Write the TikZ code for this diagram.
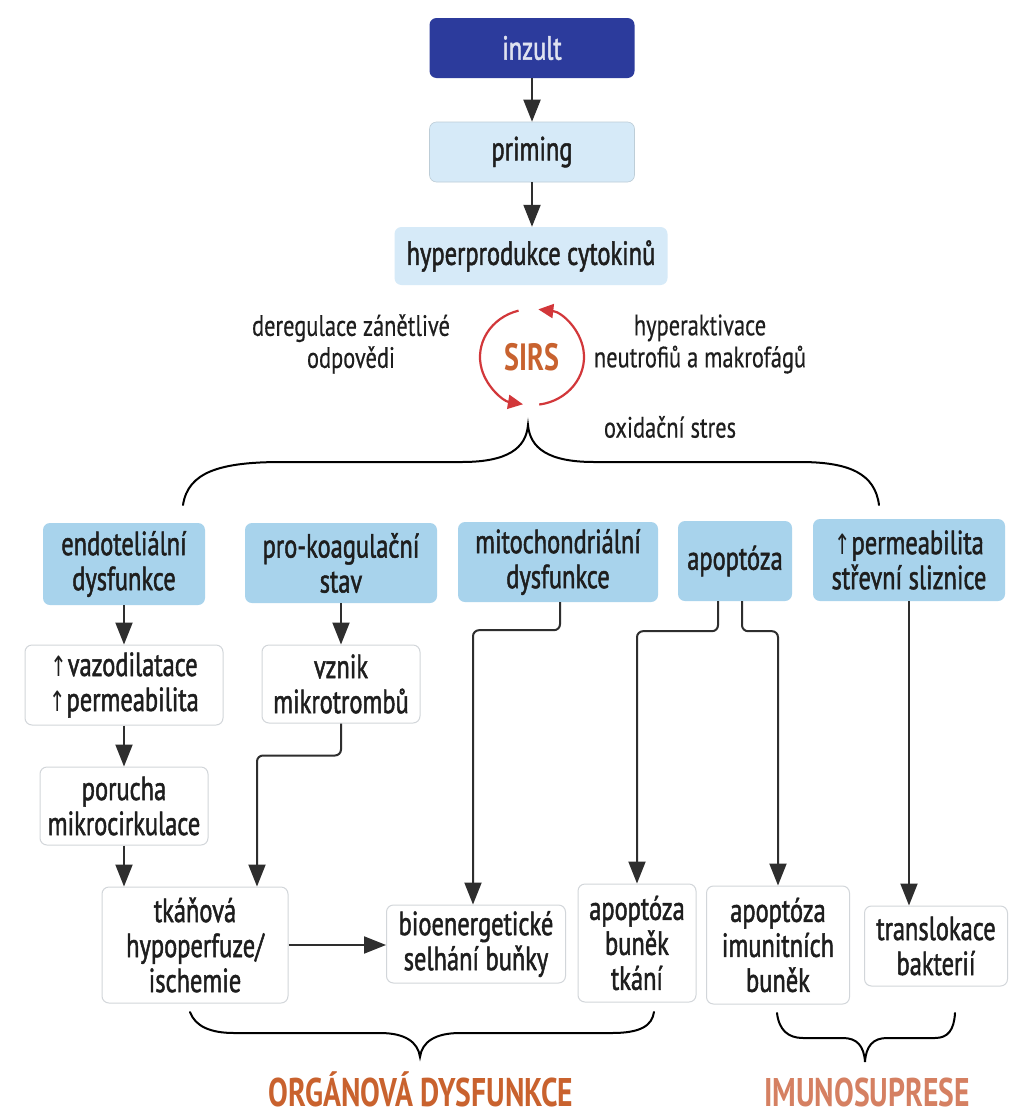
\documentclass[tikz,border=0pt]{standalone}
\usepackage{fontspec}
\setmainfont{PT Sans}[FakeStretch=0.74]
\newfontfamily\boxfont{PT Sans}[FakeStretch=0.73,FakeBold=1.4]
\newfontfamily\lblfont{PT Sans}[FakeStretch=0.76,FakeBold=0.4]
\newfontfamily\arrfont{DejaVu Sans}[FakeStretch=0.7]
\usetikzlibrary{arrows.meta,calc}
\definecolor{dkblue}{HTML}{2C3B9C}
\definecolor{ltblue}{HTML}{D6EAF8}
\definecolor{mdblue}{HTML}{A8D3EC}
\definecolor{wbord}{HTML}{D2D6DA}
\definecolor{conn}{HTML}{2E2E2E}
\definecolor{sirsred}{HTML}{D2373A}
\definecolor{sirstxt}{HTML}{C8622F}
\definecolor{orgtxt}{HTML}{C9622E}
\definecolor{imutxt}{HTML}{D58062}
\definecolor{txt}{HTML}{1E1E1E}
\newcommand{\uparr}{{\arrfont\fontsize{28}{28}\selectfont ↑}\kern1pt}
\tikzset{
  base/.style={rounded corners=7pt, align=center, inner sep=0pt, text=txt,
    font=\boxfont\fontsize{33.5}{35}\selectfont},
  darkbox/.style={base, fill=dkblue, text=white!85!dkblue},
  lightbox/.style={base, fill=ltblue, draw=ltblue!85!black!90, line width=0.6pt},
  hybox/.style={base, fill=ltblue},
  midbox/.style={base, fill=mdblue},
  whitebox/.style={base, fill=white, draw=wbord, line width=1pt},
  lbl/.style={align=center, inner sep=0pt, text=txt, font=\lblfont\fontsize{29.5}{32}\selectfont},
  arr/.style={draw=conn, line width=2pt, -{Triangle[length=22pt,width=17pt]}},
  elbow/.style={arr, rounded corners=6pt},
  sirsarr/.style={draw=sirsred, line width=2.2pt, -{Triangle[length=15pt,width=14pt]}},
  brace/.style={draw=black, line width=2pt, line cap=round},
  bigtxt/.style={inner sep=0pt, font=\bfseries\fontsize{40}{40}\selectfont},
}
\begin{document}
\begin{tikzpicture}[x=1pt,y=-1pt]
\useasboundingbox[fill=white] (0,0) rectangle (1015,1119);

% top chain
\node[darkbox, minimum width=205pt, minimum height=60pt] (inz) at (532,48) {inzult};
\node[lightbox, minimum width=205pt, minimum height=60pt] (pri) at (532,152) {priming};
\node[hybox, minimum width=273pt, minimum height=58pt] (hyp) at (531,256) {hyperprodukce cytokinů};
\draw[arr] (inz.south) -- (pri.north);
\draw[arr] (pri.south) -- (pri.south |- hyp.north);

% SIRS cycle
\node[bigtxt, text=sirstxt, font=\bfseries\fontsize{38}{38}\selectfont] (sirs) at (532,357) {SIRS};
\draw[sirsarr] ($(sirs)+(105:52pt and 48pt)$) arc[start angle=105, end angle=260, x radius=52pt, y radius=48pt];
\draw[sirsarr] ($(sirs)+(278:52pt and 48pt)$) arc[start angle=278, end angle=443, x radius=52pt, y radius=48pt];

\node[lbl] (dereg) at (351,344) {deregulace zánětlivé\\odpovědi};
\node[lbl] (hyperakt) at (700,344) {hyperaktivace\\neutrofiů a makrofágů};
\node[lbl] (oxid) at (670,427) {oxidační stres};

% big brace
\draw[brace] (183,505) .. controls (188,472) and (220,462) .. (282,462)
  -- (462,462) .. controls (508,462) and (526,448) .. (528,425)
  .. controls (530,448) and (548,462) .. (594,462)
  -- (800,462) .. controls (850,462) and (875,474) .. (879,505);

% row 1
\node[midbox, minimum width=162pt, minimum height=82pt] (endo) at (124,564) {endoteliální\\dysfunkce};
\node[midbox, minimum width=192pt, minimum height=80pt] (pk) at (341,563) {pro-koagulační\\stav};
\node[midbox, minimum width=200pt, minimum height=80pt] (mito) at (558,562) {mitochondriální\\dysfunkce};
\node[midbox, minimum width=114pt, minimum height=80pt] (ap) at (735,561) {apoptóza};
\node[midbox, minimum width=192pt, minimum height=82pt] (pm) at (909,560) {\uparr permeabilita\\střevní sliznice};

% row 2 / 3
\node[whitebox, minimum width=198pt, minimum height=80pt] (vazo) at (124,685) {\uparr vazodilatace\\\uparr permeabilita};
\node[whitebox, minimum width=158pt, minimum height=78pt] (vz) at (341,684) {vznik\\mikrotrombů};
\node[whitebox, minimum width=168pt, minimum height=78pt] (por) at (124,806) {porucha\\mikrocirkulace};

% bottom row
\node[whitebox, minimum width=186pt, minimum height=116pt] (tk) at (195,945) {tkáňová\\hypoperfuze/\\ischemie};
\node[whitebox, minimum width=179pt, minimum height=78pt] (bio) at (476,944) {bioenergetické\\selhání buňky};
\node[whitebox, minimum width=118pt, minimum height=118pt] (atk) at (637,943) {apoptóza\\buněk\\tkání};
\node[whitebox, minimum width=143pt, minimum height=118pt] (aim) at (778,945) {apoptóza\\imunitních\\buněk};
\node[whitebox, minimum width=143pt, minimum height=80pt] (tr) at (936,946) {translokace\\bakterií};

% connectors
\draw[arr] (endo.south) -- (vazo.north);
\draw[arr] (vazo.south) -- (por.north);
\draw[arr] (por.south) -- (por.south |- tk.north);
\draw[arr] (pk.south) -- (vz.north);
\draw[elbow] (vz.south) -- ++(0,32) -| ([xshift=62pt]tk.north);
\draw[elbow] ([xshift=2pt]mito.south) -- ++(0,28) -| ([xshift=-3pt]bio.north);
\draw[elbow] ([xshift=-17pt]ap.south) -- ++(0,30) -| (atk.north);
\draw[elbow] ([xshift=7pt]ap.south) -- ++(0,30) -| (aim.north);
\draw[arr] (pm.south) -- (pm.south |- tr.north);
\draw[arr] (tk.east) -- (tk.east -| bio.west);

% bottom braces
\draw[brace] (190,1012) .. controls (195,1026) and (210,1033) .. (234,1033)
  -- (380,1033) .. controls (405,1033) and (418,1042) .. (420,1057)
  .. controls (422,1042) and (435,1033) .. (460,1033)
  -- (612,1033) .. controls (640,1033) and (652,1026) .. (654,1012);
\draw[brace] (777,1013) .. controls (779,1030) and (788,1038) .. (803,1038)
  -- (843,1038) .. controls (857,1038) and (864,1046) .. (865,1062)
  .. controls (866,1046) and (873,1038) .. (887,1038)
  -- (935,1038) .. controls (948,1038) and (954,1030) .. (955,1013);

\node[bigtxt, text=orgtxt] (org) at (421,1089) {ORGÁNOVÁ DYSFUNKCE};
\node[bigtxt, text=imutxt] (imu) at (867,1092) {IMUNOSUPRESE};
\end{tikzpicture}
\end{document}
